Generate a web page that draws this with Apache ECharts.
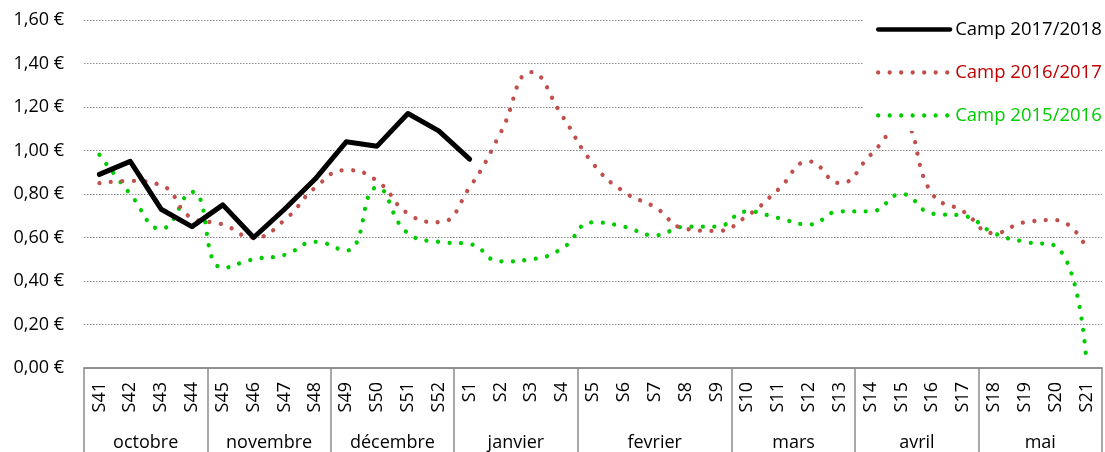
<!DOCTYPE html>
<html>
<head>
<meta charset="utf-8">
<script src="https://cdn.jsdelivr.net/npm/echarts@6/dist/echarts.min.js"></script>
<style>
  html, body { margin: 0; padding: 0; background: #fff; }
  #chart { width: 1105px; height: 452px; }
</style>
</head>
<body>
<div id="chart"></div>
<script>
// semaines (S41 -> S21)
var weeks = ['S41','S42','S43','S44','S45','S46','S47','S48','S49','S50','S51','S52',
  'S1','S2','S3','S4','S5','S6','S7','S8','S9','S10','S11','S12','S13',
  'S14','S15','S16','S17','S18','S19','S20','S21'];
var months = ['octobre','novembre','décembre','janvier','fevrier','mars','avril','mai'];
var monthWeeks = [4, 4, 4, 4, 5, 4, 4, 4];

var camp1718 = [0.89,0.95,0.73,0.65,0.75,0.60,0.73,0.87,1.04,1.02,1.17,1.09,
  0.96,null,null,null,null,null,null,null,null,null,null,null,null,
  null,null,null,null,null,null,null,null];
var camp1617 = [0.85,0.86,0.84,0.69,0.66,0.60,0.68,0.83,0.91,0.86,0.71,0.67,
  0.83,1.08,1.36,1.16,0.94,0.81,0.74,0.64,0.63,0.70,0.82,0.95,0.85,
  0.98,1.12,0.80,0.72,0.62,0.67,0.68,0.55];
var camp1516 = [0.98,0.80,0.64,0.81,0.46,0.50,0.52,0.58,0.54,0.83,0.62,0.58,
  0.57,0.49,0.50,0.55,0.67,0.65,0.61,0.65,0.65,0.72,0.69,0.66,0.72,
  0.72,0.80,0.71,0.70,0.62,0.58,0.56,0.02];

// axe des mois : demi-semaines, bornes et centres
var monthSlots = [];
var monthBounds = [0];
var pos = 0;
for (var i = 0; i <= weeks.length * 2; i++) monthSlots.push('');
months.forEach(function (m, k) {
  monthSlots[pos + monthWeeks[k]] = m;
  pos += monthWeeks[k] * 2;
  monthBounds.push(pos);
});

var font = 'Open Sans';
var grey = '#8c8c8c';
var dots = [0.01, 11.5];

var chart = echarts.init(document.getElementById('chart'));
var option = {
  animation: false,
  textStyle: { fontFamily: font },
  grid: { left: 84, right: -4, top: 20, bottom: 83 },
  legend: {
    orient: 'vertical',
    left: 864,
    top: 8,
    align: 'left',
    padding: [12, 8, 6, 12],
    backgroundColor: '#fff',
    itemWidth: 72,
    itemHeight: 20,
    itemGap: 24,
    itemStyle: { color: 'rgba(0,0,0,0)', borderWidth: 0 },
    lineStyle: { width: 4.3 },
    textStyle: { fontFamily: font, fontSize: 18.5 },
    data: [
      { name: 'Camp 2017/2018', textStyle: { color: '#000' } },
      { name: 'Camp 2016/2017', textStyle: { color: '#c00000' } },
      { name: 'Camp 2015/2016', textStyle: { color: '#00cc00' } }
    ]
  },
  xAxis: [{
    type: 'category',
    data: weeks,
    position: 'bottom',
    axisLine: { lineStyle: { color: grey, width: 1.5 } },
    axisTick: { show: false },
    axisLabel: {
      interval: 0, rotate: 90, margin: 14,
      fontFamily: font, fontSize: 18, color: '#000'
    }
  }, {
    type: 'category',
    data: monthSlots,
    boundaryGap: false,
    position: 'bottom',
    axisLine: { lineStyle: { color: grey, width: 1.5 } },
    axisTick: {
      length: 95,
      interval: function (idx) { return monthBounds.indexOf(idx) >= 0; },
      lineStyle: { color: grey, width: 1.5 }
    },
    axisLabel: {
      interval: 0, margin: 66,
      fontFamily: font, fontSize: 18, color: '#000'
    }
  }],
  yAxis: {
    type: 'value',
    min: 0, max: 1.6, interval: 0.2,
    axisLine: { show: false },
    axisTick: { show: false },
    splitLine: { lineStyle: { color: grey, width: 1, type: [1.5, 1.5] } },
    axisLabel: {
      margin: 20, fontFamily: font, fontSize: 18, color: '#000',
      formatter: function (v) { return v.toFixed(2).replace('.', ',') + ' €'; }
    }
  },
  series: [{
    name: 'Camp 2015/2016',
    type: 'line',
    data: camp1516,
    symbol: 'none',
    smooth: 0.5,
    lineStyle: { color: '#00cc00', width: 4.3, type: dots, cap: 'round' },
    itemStyle: { color: '#00cc00' }
  }, {
    name: 'Camp 2016/2017',
    type: 'line',
    data: camp1617,
    symbol: 'none',
    smooth: 0.5,
    lineStyle: { color: '#c0504d', width: 4.3, type: dots, cap: 'round' },
    itemStyle: { color: '#c0504d' }
  }, {
    name: 'Camp 2017/2018',
    type: 'line',
    data: camp1718,
    symbol: 'none',
    smooth: false,
    lineStyle: { color: '#000', width: 5, cap: 'round', join: 'round' },
    itemStyle: { color: '#000' }
  }]
};
chart.setOption(option);
</script>
</body>
</html>
